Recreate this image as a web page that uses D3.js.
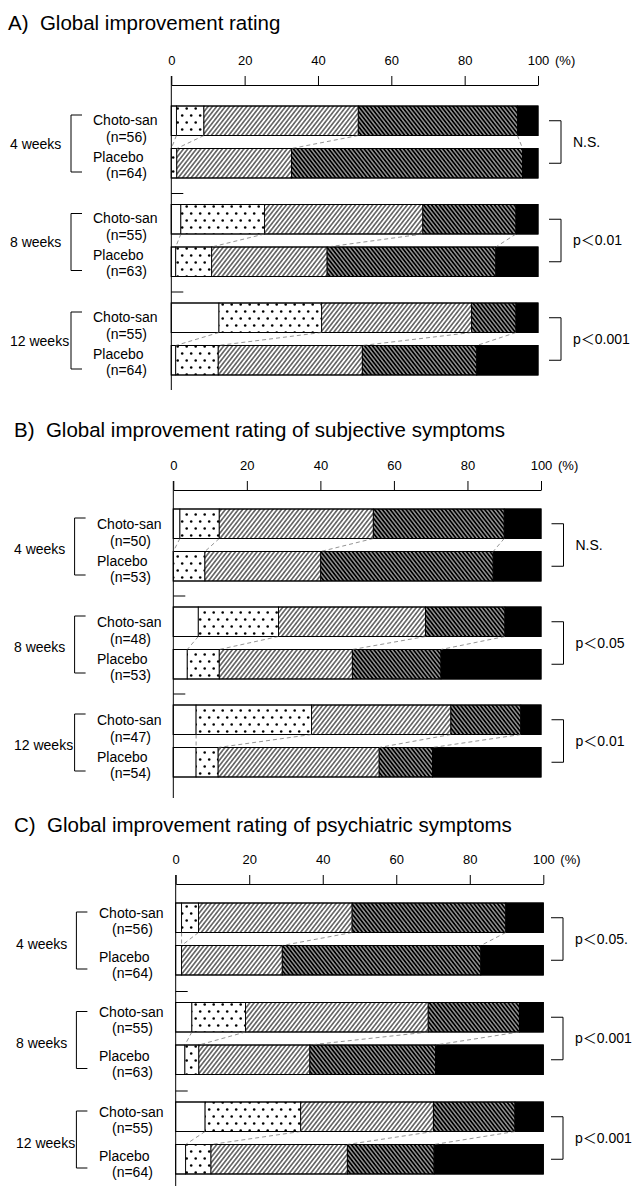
<!DOCTYPE html>
<html>
<head>
<meta charset="utf-8">
<script src="https://cdn.jsdelivr.net/npm/d3@7"></script>
<style>
  body { margin: 0; background: #fff; }
  text { font-family: "Liberation Sans", Arial, "Noto Sans CJK JP", sans-serif; fill: #000; }
</style>
</head>
<body>
<div id="chart"></div>
<script>
const svgWidth = 637;
const svgHeight = 1186;

// ---- data ----
const panelTitles = [
  "A)\u00a0 Global improvement rating",
  "B)\u00a0 Global improvement rating of subjective symptoms",
  "C)\u00a0 Global improvement rating of psychiatric symptoms"
];
const weeks = ["4 weeks", "8 weeks", "12 weeks"];
const arms = ["Choto-san", "Placebo"];
const categories = ["markedly", "moderately", "slightly", "unchanged", "worse"];
const ticks = [0, 20, 40, 60, 80, 100];

// n per row: 4w Choto, 4w Placebo, 8w Choto, 8w Placebo, 12w Choto, 12w Placebo
const nA = [56, 64, 55, 63, 55, 64];
const nB = [50, 53, 48, 53, 47, 54];
const nC = [56, 64, 55, 63, 55, 64];

const pA = ["N.S.", "p＜0.01", "p＜0.001"];
const pB = ["N.S.", "p＜0.05", "p＜0.01"];
const pC = ["p＜0.05.", "p＜0.001", "p＜0.001"];

// % per category (white, dotted, light hatch, dark hatch, black)
const ratingA = [
  [1.4, 7.5, 42.1, 43.4, 5.6],
  [0, 1.5, 31.3, 63.0, 4.2],
  [2.6, 22.8, 43.2, 25.4, 6.0],
  [1.2, 9.8, 31.5, 46.0, 11.5],
  [13.0, 28.0, 40.9, 12.1, 6.0],
  [1.2, 11.6, 39.3, 31.2, 16.7]
];
const ratingB = [
  [1.8, 10.7, 41.9, 35.6, 10.0],
  [0, 8.6, 31.5, 46.9, 13.0],
  [6.8, 21.8, 40.0, 21.6, 9.8],
  [3.8, 8.7, 36.2, 24.1, 27.2],
  [6.2, 31.4, 37.9, 19.0, 5.5],
  [6.2, 6.0, 43.8, 14.5, 29.5]
];
const ratingC = [
  [1.6, 4.6, 41.8, 41.8, 10.2],
  [1.6, 0, 27.4, 54.0, 17.0],
  [4.4, 14.6, 49.7, 24.8, 6.5],
  [2.5, 3.8, 30.2, 34.2, 29.3],
  [8.0, 26.0, 36.1, 22.2, 7.7],
  [2.7, 6.9, 37.1, 23.6, 29.7]
];

// layout of the three panels
const panels = [
  {title: panelTitles[0], n: nA, p: pA, values: ratingA,
   titleX: 8, titleY: 30, axisY: 85, barTop: 106, step: 98.5, x0: 171.3, x1: 538,
   bx: 561, dx: 0, labelOff: [14, 31, 51, 67], weekOff: 38, axisEnd: 390},
  {title: panelTitles[1], n: nB, p: pB, values: ratingB,
   titleX: 14, titleY: 437, axisY: 490, barTop: 509, step: 98, x0: 173.3, x1: 541,
   bx: 563.5, dx: 4, labelOff: [15, 32, 52, 68], weekOff: 40, axisEnd: 798},
  {title: panelTitles[2], n: nC, p: pC, values: ratingC,
   titleX: 14, titleY: 832, axisY: 884, barTop: 903, step: 99.5, x0: 175.7, x1: 543.3,
   bx: 563, dx: 6, labelOff: [10, 26, 54, 70], weekOff: 41, axisEnd: 1186}
];

const fills = ["#fff", "url(#dots)", "url(#hatchL)", "url(#hatchD)", "#000"];

const svg = d3.select("#chart")
  .append("svg")
  .attr("width", svgWidth)
  .attr("height", svgHeight);

// patterns
const defs = svg.append("defs");
const dots = defs.append("pattern").attr("id", "dots")
  .attr("patternUnits", "userSpaceOnUse").attr("width", 9).attr("height", 14);
dots.append("rect").attr("width", 9).attr("height", 14).attr("fill", "#fff");
dots.append("circle").attr("cx", 2.2).attr("cy", 3.5).attr("r", 1.3).attr("fill", "#000");
dots.append("circle").attr("cx", 6.7).attr("cy", 10.5).attr("r", 1.3).attr("fill", "#000");

const hl = defs.append("pattern").attr("id", "hatchL")
  .attr("patternUnits", "userSpaceOnUse").attr("width", 3.4).attr("height", 10)
  .attr("patternTransform", "rotate(38)");
hl.append("rect").attr("width", 3.4).attr("height", 10).attr("fill", "#fff");
hl.append("line").attr("x1", 1.7).attr("x2", 1.7).attr("y1", 0).attr("y2", 10)
  .attr("stroke", "#000").attr("stroke-width", 1);

const hd = defs.append("pattern").attr("id", "hatchD")
  .attr("patternUnits", "userSpaceOnUse").attr("width", 3.1).attr("height", 10)
  .attr("patternTransform", "rotate(-38)");
hd.append("rect").attr("width", 3.1).attr("height", 10).attr("fill", "#000");
hd.append("line").attr("x1", 1.55).attr("x2", 1.55).attr("y1", 0).attr("y2", 10)
  .attr("stroke", "#fff").attr("stroke-width", 0.85);

panels.forEach(function(P) {
  const g = svg.append("g");

  // rows for the stack
  const rows = P.values.map(function(v, i) {
    const r = {week: weeks[Math.floor(i / 2)], arm: arms[i % 2], n: P.n[i]};
    categories.forEach((c, k) => r[c] = v[k]);
    return r;
  });
  const series = d3.stack().keys(categories)(rows);

  const x = d3.scaleLinear().domain([0, 100]).range([P.x0, P.x1]);
  const yG = d3.scaleBand().domain(weeks).range([P.barTop, P.barTop + 3 * P.step]);
  const yA = d3.scaleBand().domain(arms).range([0, 72]).paddingInner(0.306).paddingOuter(0);
  const bh = yA.bandwidth();
  const rowY = d => yG(d.week) + yA(d.arm);

  // title
  g.append("text")
    .attr("x", P.titleX).attr("y", P.titleY)
    .style("font-size", "20.5px")
    .text(P.title);

  // top axis
  const axis = g.append("g")
    .attr("transform", "translate(0," + P.axisY + ")")
    .call(d3.axisTop(x).tickValues(ticks).tickSize(9).tickSizeOuter(0).tickPadding(11.5));
  axis.select(".domain").attr("stroke", "#000").attr("stroke-width", 1);
  axis.selectAll(".tick line").attr("stroke", "#000");
  axis.selectAll(".tick text").style("font-size", "13px")
    .style("font-family", "'Liberation Sans', Arial, sans-serif").attr("fill", "#000");
  g.append("text")
    .attr("x", P.x1 + 17).attr("y", P.axisY - 20.5)
    .style("font-size", "13px")
    .text("(%)");

  // vertical axis line
  g.append("line")
    .attr("x1", x(0)).attr("x2", x(0))
    .attr("y1", P.axisY - 9).attr("y2", P.axisEnd)
    .attr("stroke", "#000").attr("stroke-width", 1);

  // separators between week groups
  g.selectAll(".sep")
    .data(weeks.slice(1))
    .join("line")
    .attr("x1", x(0)).attr("x2", x(0) + 12)
    .attr("y1", d => yG(d) - 11).attr("y2", d => yG(d) - 11)
    .attr("stroke", "#000").attr("stroke-width", 1);

  // bar segments
  series.forEach(function(s, k) {
    g.append("g")
      .selectAll("rect")
      .data(s.filter(d => d[1] - d[0] > 0))
      .join("rect")
      .attr("x", d => x(d[0]))
      .attr("y", d => rowY(d.data))
      .attr("width", d => x(d[1]) - x(d[0]))
      .attr("height", bh)
      .attr("fill", fills[k])
      .attr("stroke", "#000")
      .attr("stroke-width", 0.9);
  });

  // bar outline
  g.selectAll(".outline")
    .data(rows)
    .join("rect")
    .attr("x", x(0)).attr("y", d => rowY(d))
    .attr("width", x(100) - x(0)).attr("height", bh)
    .attr("fill", "none").attr("stroke", "#000").attr("stroke-width", 1);

  // connecting dashed lines between Choto-san and Placebo
  weeks.forEach(function(w, wi) {
    const ci = wi * 2, pi = wi * 2 + 1;
    for (let k = 0; k < 4; k++) {
      g.append("line")
        .attr("x1", x(series[k][ci][1]))
        .attr("y1", rowY(rows[ci]) + bh)
        .attr("x2", x(series[k][pi][1]))
        .attr("y2", rowY(rows[pi]))
        .attr("stroke", "#666").attr("stroke-width", 0.7)
        .attr("stroke-dasharray", "4,3");
    }
  });

  // row labels
  rows.forEach(function(r, i) {
    const top = yG(r.week);
    const isC = r.arm === arms[0];
    g.append("text")
      .attr("x", 93 + P.dx)
      .attr("y", top + (isC ? P.labelOff[0] : P.labelOff[2]))
      .attr("dy", "0.35em")
      .style("font-size", "14px")
      .text(r.arm);
    g.append("text")
      .attr("x", 106 + P.dx)
      .attr("y", top + (isC ? P.labelOff[1] : P.labelOff[3]))
      .attr("dy", "0.35em")
      .style("font-size", "14px")
      .text("(n=" + r.n + ")");
  });

  // week labels + left brackets
  weeks.forEach(function(w) {
    const top = yG(w);
    const bxL = 71 + P.dx * 0.9;
    g.append("text")
      .attr("x", 10 + P.dx)
      .attr("y", top + P.weekOff)
      .attr("dy", "0.35em")
      .style("font-size", "14px")
      .text(w);
    g.append("path")
      .attr("d", "M" + (bxL + 11) + "," + (top + 9) + "H" + bxL + "V" + (top + 66) + "H" + (bxL + 11))
      .attr("fill", "none").attr("stroke", "#000").attr("stroke-width", 1);
  });

  // right brackets + p values
  weeks.forEach(function(w, wi) {
    const yc = rowY(rows[wi * 2]) + bh / 2;
    const yp = rowY(rows[wi * 2 + 1]) + bh / 2;
    g.append("path")
      .attr("d", "M" + (P.bx - 12) + "," + yc + "H" + P.bx + "V" + yp + "H" + (P.bx - 12))
      .attr("fill", "none").attr("stroke", "#000").attr("stroke-width", 1);
    g.append("text")
      .attr("x", P.bx + 12)
      .attr("y", (yc + yp) / 2)
      .attr("dy", "0.35em")
      .style("font-size", "14px")
      .text(P.p[wi]);
  });
});
</script>
</body>
</html>
